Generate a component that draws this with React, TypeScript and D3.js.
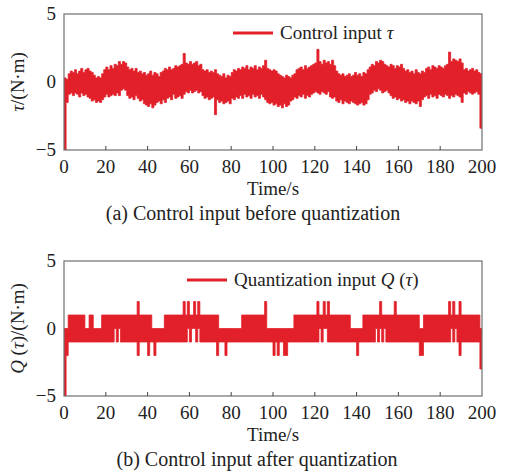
import * as d3 from 'd3';
import React from 'react';

// time axis, one sample per second
const TIME_TICKS = [0, 20, 40, 60, 80, 100, 120, 140, 160, 180, 200];
const Y_TICKS = [-5, 0, 5];

// (a) control input tau: upper / lower edge of the dense signal band, t = 0..200 s
const TAU_UPPER = [
  0.3, 0.2, 0.6, 0.8, 0.7, 0.9, 0.6, 0.8, 1.0, 0.7,
  0.9, 1.0, 0.8, 0.7, 0.5, 0.3, 0.4, 0.3, 0.6, 0.9,
  1.1, 0.9, 1.2, 1.0, 1.3, 1.2, 1.5, 1.3, 1.5, 1.4,
  1.1, 0.9, 1.0, 0.8, 1.0, 0.7, 0.8, 0.6, 0.7, 0.5,
  0.6, 0.8, 0.5, 0.7, 0.6, 0.4, 0.7, 0.8, 1.0, 0.9,
  1.1, 0.9, 1.0, 1.2, 1.1, 1.2, 1.3, 2.1, 1.4, 1.3,
  1.5, 1.3, 1.4, 1.5, 1.2, 1.3, 0.9, 0.8, 0.9, 0.7,
  0.8, 0.7, 0.9, 0.6, 0.5, 0.4, 0.6, 0.3, 0.5, 0.4,
  0.7, 0.9, 0.8, 1.0, 0.9, 1.1, 1.0, 1.2, 0.9, 1.1,
  1.0, 1.2, 0.9, 1.1, 1.0, 1.2, 1.6, 1.0, 0.9, 0.8,
  0.9, 0.8, 0.6, 0.5, 0.4, 0.3, 0.5, 0.4, 0.3, 0.5,
  0.6, 0.9, 1.0, 1.1, 0.9, 1.2, 1.0, 1.1, 1.2, 1.3,
  1.4, 2.4, 1.5, 1.3, 1.6, 1.4, 1.5, 1.3, 1.6, 1.2,
  0.8, 0.6, 0.5, 0.6, 0.4, 0.5, 0.6, 0.4, 0.5, 0.7,
  0.5, 0.6, 0.4, 0.7, 0.6, 0.9, 1.1, 1.3, 1.2, 1.5,
  1.4, 1.6, 1.5, 1.3, 1.2, 1.1, 1.3, 1.2, 1.0, 1.2,
  1.1, 1.3, 1.0, 0.8, 0.9, 0.7, 0.8, 0.6, 0.9, 0.7,
  0.6, 0.8, 0.7, 1.0, 1.1, 0.9, 1.2, 1.1, 1.0, 1.2,
  1.1, 1.0, 1.2, 1.3, 2.2, 1.5, 1.7, 1.6, 1.5, 1.7,
  1.4, 0.9, 1.0, 0.8, 0.9, 1.0, 0.8, 0.9, 0.7, 0.6, 0.5,
];
const TAU_LOWER = [
  -5.0, -1.5, -0.9, -0.8, -1.0, -0.8, -0.9, -1.1, -0.8, -1.0,
  -0.9, -1.1, -1.2, -1.4, -1.3, -1.5, -1.4, -1.5, -1.3, -1.1,
  -0.9, -1.1, -1.0, -0.9, -1.0, -0.8, -1.0, -0.6, -0.5, -0.6,
  -1.0, -1.2, -1.1, -1.3, -1.0, -1.2, -1.4, -1.3, -1.6, -1.7,
  -1.8, -1.6, -1.9, -1.7, -1.5, -1.4, -1.6, -1.3, -1.5, -1.2,
  -1.1, -1.3, -0.9, -1.2, -1.1, -1.0, -1.2, -0.9, -0.7, -0.8,
  -0.6, -0.8, -0.7, -0.6, -0.8, -0.7, -1.0, -1.2, -1.1, -1.3,
  -1.2, -1.1, -2.4, -1.3, -1.5, -1.4, -1.6, -1.5, -1.4, -1.6,
  -1.2, -1.3, -1.1, -1.2, -1.0, -1.2, -0.9, -1.1, -1.0, -1.2,
  -0.9, -1.1, -1.0, -1.2, -0.9, -1.1, -1.3, -1.5, -1.6, -1.5,
  -1.7, -1.6, -1.8, -1.7, -1.9, -1.6, -1.8, -1.7, -1.4, -1.3,
  -1.1, -1.2, -1.0, -1.1, -0.9, -1.2, -1.0, -1.1, -0.9, -0.8,
  -0.7, -0.8, -0.9, -0.7, -0.8, -0.9, -0.7, -1.1, -1.2, -1.1,
  -1.4, -1.5, -1.3, -1.6, -1.4, -1.5, -1.6, -1.4, -1.5, -1.6,
  -1.7, -1.6, -1.5, -1.7, -1.6, -1.3, -0.9, -0.8, -0.6, -0.7,
  -0.5, -0.6, -0.8, -0.7, -0.6, -0.8, -1.0, -1.2, -1.1, -1.3,
  -1.2, -1.4, -1.3, -1.5, -1.4, -1.6, -1.4, -1.5, -1.6, -1.4,
  -1.8, -1.3, -1.1, -1.0, -1.2, -0.9, -1.1, -1.0, -1.2, -0.9,
  -1.0, -1.1, -0.9, -1.0, -1.2, -1.0, -1.1, -0.9, -1.0, -1.1,
  -1.5, -0.8, -0.9, -0.7, -0.8, -0.9, -0.8, -0.7, -0.9, -3.4, -3.4,
];

// (b) quantized input Q(tau): upper / lower level of the switching band
const Q_UPPER = [
  0, 0, 1, 1, 1, 1, 1, 1, 1, 1,
  0, 0, 1, 1, 0, 0, 0, 0, 1, 1,
  1, 1, 1, 1, 1, 1, 1, 1, 1, 1,
  1, 1, 1, 1, 1, 2, 1, 1, 1, 1,
  1, 1, 0, 0, 0, 0, 0, 0, 1, 1,
  1, 1, 1, 1, 1, 1, 1, 2, 1, 2,
  1, 1, 2, 1, 2, 1, 1, 1, 1, 1,
  1, 1, 1, 1, 0, 0, 0, 0, 0, 0,
  0, 0, 0, 0, 0, 1, 1, 1, 1, 1,
  1, 1, 1, 1, 1, 1, 2, 0, 0, 0,
  0, 0, 0, 0, 0, 0, 0, 0, 0, 0,
  1, 1, 1, 1, 1, 1, 1, 1, 1, 1,
  1, 2, 1, 1, 2, 1, 2, 1, 1, 1,
  1, 1, 1, 1, 1, 1, 1, 0, 0, 0,
  0, 0, 0, 1, 1, 1, 1, 1, 1, 1,
  1, 2, 1, 1, 1, 1, 1, 1, 2, 1,
  1, 1, 1, 1, 1, 1, 1, 1, 1, 1,
  0, 0, 1, 1, 1, 1, 1, 1, 1, 1,
  1, 1, 1, 1, 2, 1, 2, 1, 1, 2,
  1, 1, 1, 1, 1, 1, 1, 1, 1, 0, 0,
];
const Q_LOWER = [
  -5, -2, -1, -1, -1, -1, -1, -1, -1, -1,
  -1, -1, -1, -1, -1, -1, -1, -1, -1, -1,
  -1, -1, -1, -1, 0, -1, 0, -1, -1, -1,
  -1, -1, -1, -1, -1, -2, -1, -1, -1, -1,
  -2, -1, -1, -2, -1, -1, -1, -1, -1, -1,
  -1, -1, -1, -1, -1, -1, -1, -1, -1, 0,
  -1, 0, 0, -1, 0, -1, -1, -1, -1, -1,
  -1, -1, -1, -2, -1, -1, -1, -2, -1, -1,
  -1, -1, -1, -1, -1, -1, -1, -1, -1, -1,
  -1, -1, -1, -1, -1, -1, -1, -1, -1, -1,
  -2, -1, -2, -1, -1, -2, -2, -1, -1, -1,
  -1, -1, -1, -1, -1, -1, -1, -1, -1, -1,
  -1, -1, 0, -1, 0, 0, -1, -1, -1, -1,
  -1, -1, -1, -1, -1, -1, -1, -1, -1, -1,
  -2, -1, -1, -1, -1, -1, -1, -1, -1, 0,
  -1, 0, -1, 0, -1, -1, -1, -1, -1, -1,
  -1, -1, -1, -1, -1, -1, -1, -1, -1, -1,
  -2, -2, -1, -1, -1, -1, -1, -1, -1, -1,
  -1, -1, -1, -1, -1, 0, -1, 0, -1, -2,
  -1, -1, -1, -1, -1, -1, -1, -1, -1, -3, -3,
];

const RED = '#e2202a';
const FONT = 'Liberation Serif, DejaVu Serif, serif';
const WIDTH = 508;
const HEIGHT = 473;
const PLOT_LEFT = 64;
const PLOT_RIGHT = 482;

function Panel({ id, top, bottom, upper, lower, yLabel, legend, legendX, caption, captionX }) {
  const x = d3.scaleLinear().domain([0, 200]).range([PLOT_LEFT, PLOT_RIGHT]);
  const y = d3.scaleLinear().domain([-5, 5]).range([bottom, top]);

  const band = d3.area<number>()
    .x((_, i) => x(i))
    .y0((_, i) => y(lower[i]))
    .y1((d) => y(d))
    .curve(d3.curveStepAfter);

  const legendY = top + 19;

  return (
    <g style={{ fontFamily: FONT }} fill="#222">
      <defs>
        <clipPath id={`clip-${id}`}>
          <rect x={PLOT_LEFT} y={top} width={PLOT_RIGHT - PLOT_LEFT} height={bottom - top} />
        </clipPath>
      </defs>
      <path
        d={band(upper) || ''}
        fill={RED}
        stroke={RED}
        strokeWidth={0.8}
        strokeLinejoin="round"
        clipPath={`url(#clip-${id})`}
      />
      <rect
        x={PLOT_LEFT}
        y={top}
        width={PLOT_RIGHT - PLOT_LEFT}
        height={bottom - top}
        fill="none"
        stroke="#6e6e6e"
        strokeWidth={1.2}
      />
      {TIME_TICKS.slice(1, -1).map((t) => (
        <line key={t} x1={x(t)} x2={x(t)} y1={bottom} y2={bottom - 4} stroke="#444" strokeWidth={1} />
      ))}
      {TIME_TICKS.map((t) => (
        <text key={t} x={x(t)} y={bottom + 23} textAnchor="middle" fontSize={19}>
          {t}
        </text>
      ))}
      {Y_TICKS.map((v) => (
        <text key={v} x={56} y={y(v)} dy="0.32em" textAnchor="end" fontSize={19}>
          {v < 0 ? `\u2212${Math.abs(v)}` : v}
        </text>
      ))}
      <text x={(PLOT_LEFT + PLOT_RIGHT) / 2} y={bottom + 45} textAnchor="middle" fontSize={19}>
        Time/s
      </text>
      <text x={captionX} y={bottom + 70} textAnchor="middle" fontSize={20}>
        {caption}
      </text>
      <text
        transform={`translate(24,${(top + bottom) / 2}) rotate(-90)`}
        textAnchor="middle"
        fontSize={19}
      >
        {yLabel}
      </text>
      <line x1={legendX} x2={legendX + 40} y1={legendY} y2={legendY} stroke={RED} strokeWidth={3} />
      <text x={legendX + 47} y={legendY + 6} fontSize={19}>
        {legend}
      </text>
    </g>
  );
}

export default function App() {
  return (
    <svg
      width={WIDTH}
      height={HEIGHT}
      style={{ position: 'absolute', left: 0, top: 0, background: '#fff' }}
    >
      <Panel
        id="a"
        top={14}
        bottom={150}
        upper={TAU_UPPER}
        lower={TAU_LOWER}
        yLabel={<><tspan fontStyle="italic">τ</tspan>/(N·m)</>}
        legend={<>Control input <tspan fontStyle="italic">τ</tspan></>}
        legendX={233}
        caption="(a) Control input before quantization"
        captionX={253}
      />
      <Panel
        id="b"
        top={261}
        bottom={396}
        upper={Q_UPPER}
        lower={Q_LOWER}
        yLabel={<><tspan fontStyle="italic">Q</tspan> (<tspan fontStyle="italic">τ</tspan>)/(N·m)</>}
        legend={<>Quantization input <tspan fontStyle="italic">Q</tspan> (<tspan fontStyle="italic">τ</tspan>)</>}
        legendX={187}
        caption="(b) Control input after quantization"
        captionX={257}
      />
    </svg>
  );
}
